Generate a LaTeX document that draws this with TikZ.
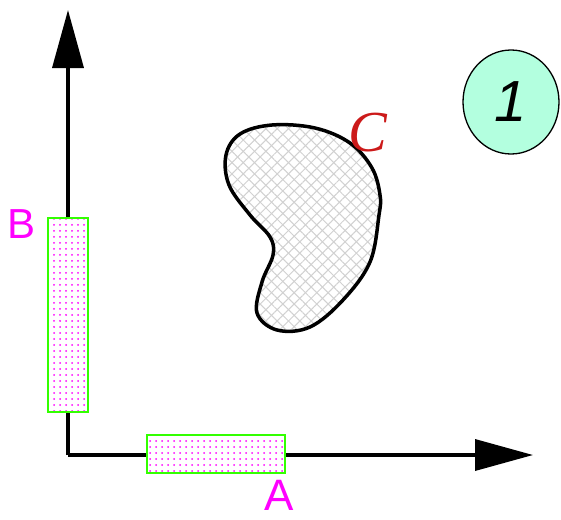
\documentclass[tikz,border=0pt]{standalone}
\usepackage{fontspec}
\setmainfont{Liberation Serif}
\setsansfont{Liberation Sans}
\usetikzlibrary{positioning,calc,arrows.meta,patterns.meta,shapes.geometric}
\definecolor{mint}{HTML}{B3FFDF}
\definecolor{darkred}{HTML}{CC1A1A}
\definecolor{pink}{HTML}{FF00FF}
\definecolor{lime}{HTML}{33FF00}

\begin{document}
\begin{tikzpicture}[x=1pt, y=-1pt, >={Triangle[length=58pt,width=31pt]},
   axis/.style={line width=3.5pt},
   bar/.style={draw=lime, line width=2pt, inner sep=0pt, preaction={fill=white},
     pattern={Dots[distance=6pt, radius=1pt]}, pattern color=pink},
   lbl/.style={font=\sffamily\fontsize{42}{42}\selectfont, text=pink, inner sep=0pt}]
  \useasboundingbox (0,0) rectangle (561,519);
  % axes
  \coordinate (O) at (68,455);
  \coordinate (ytip) at (68,10);
  \coordinate (xtip) at (533,455);
  \draw[axis,->] (O) -- (ytip);
  \draw[axis,->] (O) -- (xtip);
  % bars on the axes
  \node[bar, minimum width=40pt, minimum height=194pt] (barB) at (68,315) {};
  \node[bar, minimum width=138pt, minimum height=38pt] (barA) at (216,454) {};
  \node[lbl] (labB) at (22,224) {B};
  \node[lbl, font=\sffamily\fontsize{44}{44}\selectfont] (labA) at (279,495) {A};
  % blob
  \draw[line width=3.5pt, preaction={fill=white},
        preaction={pattern={Lines[distance=8pt, angle=45, line width=1pt]}, pattern color=black!18},
        preaction={pattern={Lines[distance=8pt, angle=-45, line width=1pt]}, pattern color=black!18}]
    plot[smooth cycle, tension=0.6] coordinates {(272,125) (240,134) (226,155) (229,185) (250,215) (270,237) (273,255) (262,282) (257,313) (277,330) (310,327) (343,300) (370,262) (379,215) (380,195) (372,168) (350,143) (315,128)};
  \node[text=darkred, font=\itshape\fontsize{58}{58}\selectfont, inner sep=0pt] (labC) at (368,133) {C};
  % number
  \node[ellipse, draw, line width=1.3pt, fill=mint, minimum width=96pt, minimum height=104pt, inner sep=0pt,
        font=\sffamily\itshape\fontsize{58}{58}\selectfont] (num) at (511,102) {1};
\end{tikzpicture}
\end{document}
